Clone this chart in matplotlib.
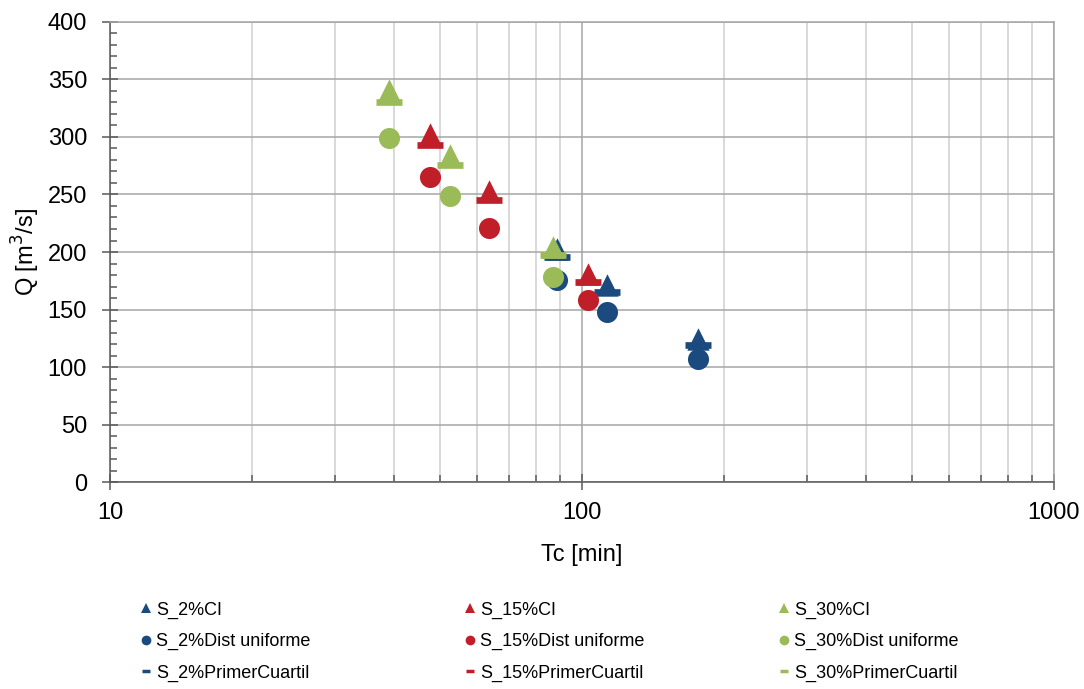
import matplotlib.pyplot as plt
from matplotlib.lines import Line2D
from matplotlib.ticker import MultipleLocator, NullFormatter, FuncFormatter

plt.rcParams['font.family'] = ['Liberation Sans', 'DejaVu Sans']

# Tc [min] per slope group
tc_2 = [88.5, 113, 176]
tc_15 = [47.7, 63.5, 103]
tc_30 = [39.0, 52.5, 86.9]

# Q [m3/s]
ci_2 = [203, 171, 124]
dist_2 = [176, 148, 107]
pc_2 = [196, 165, 119]

ci_15 = [303, 253, 181]
dist_15 = [265, 221, 158]
pc_15 = [293, 245, 174]

ci_30 = [341, 284, 204]
dist_30 = [299, 249, 178]
pc_30 = [330, 276, 197]

blue = '#1A4A7E'
red = '#C01F2A'
green = '#9BBB59'

fig = plt.figure(figsize=(10.84, 6.89), dpi=100)
ax = fig.add_axes([0.1015, 0.3004, 0.8708, 0.6677])

groups = [
    ('S_2%', tc_2, ci_2, dist_2, pc_2, blue),
    ('S_15%', tc_15, ci_15, dist_15, pc_15, red),
    ('S_30%', tc_30, ci_30, dist_30, pc_30, green),
]

for name, tc, ci, dist, pc, col in groups:
    ax.scatter(tc, ci, marker='^', s=260, color=col, linewidths=0, zorder=3)
    ax.scatter(tc, dist, marker='o', s=230, color=col, linewidths=0, zorder=3)
    ax.plot(tc, pc, linestyle='none', marker='_', ms=18.7, mew=4.8, color=col, zorder=3)

ax.set_xscale('log')
ax.set_xlim(10, 1000)
ax.set_ylim(0, 400)
ax.xaxis.set_major_formatter(FuncFormatter(lambda v, p: '%d' % v))
ax.xaxis.set_minor_formatter(NullFormatter())
ax.yaxis.set_major_locator(MultipleLocator(50))
ax.yaxis.set_minor_locator(MultipleLocator(10))

ax.grid(True, which='major', color='#A6A6A6', linewidth=1.1, zorder=0)
ax.grid(True, which='minor', axis='x', color='#D0D0D0', linewidth=1.1, zorder=0)
ax.set_axisbelow(True)

for s in ['top', 'right']:
    ax.spines[s].set_color('#A6A6A6')
    ax.spines[s].set_linewidth(1.1)
for s in ['left', 'bottom']:
    ax.spines[s].set_color('#595959')
    ax.spines[s].set_linewidth(1.1)

ax.tick_params(which='major', direction='inout', length=11, width=1.1, color='#595959',
               labelsize=17, labelcolor='black')
ax.tick_params(axis='y', which='major', pad=11)
ax.tick_params(axis='x', which='major', pad=9)
ax.tick_params(which='minor', direction='in', length=5, width=1.1, color='#595959')

ax.set_xlabel('Tc [min]', fontsize=17, labelpad=14)
ax.set_ylabel('Q [m$^3$/s]', fontsize=17, labelpad=4)

# legend: one column per slope group
col_x = [0.1305, 0.4295, 0.7195]
for (name, tc, ci, dist, pc, col), x0 in zip(groups, col_x):
    hs = [
        Line2D([], [], linestyle='none', marker='^', ms=7, mew=0, color=col),
        Line2D([], [], linestyle='none', marker='o', ms=7, mew=0, color=col),
        Line2D([], [], linestyle='none', marker='_', ms=6, mew=2.5, color=col),
    ]
    labels = [name + 'CI', name + 'Dist uniforme', name + 'PrimerCuartil']
    fig.legend(hs, labels, loc='upper left', bbox_to_anchor=(x0, 0.127),
               frameon=False, fontsize=13, handlelength=0.5, handletextpad=0.3,
               labelspacing=0.8, borderpad=0, borderaxespad=0)

fig.savefig('out.png', dpi=100)
